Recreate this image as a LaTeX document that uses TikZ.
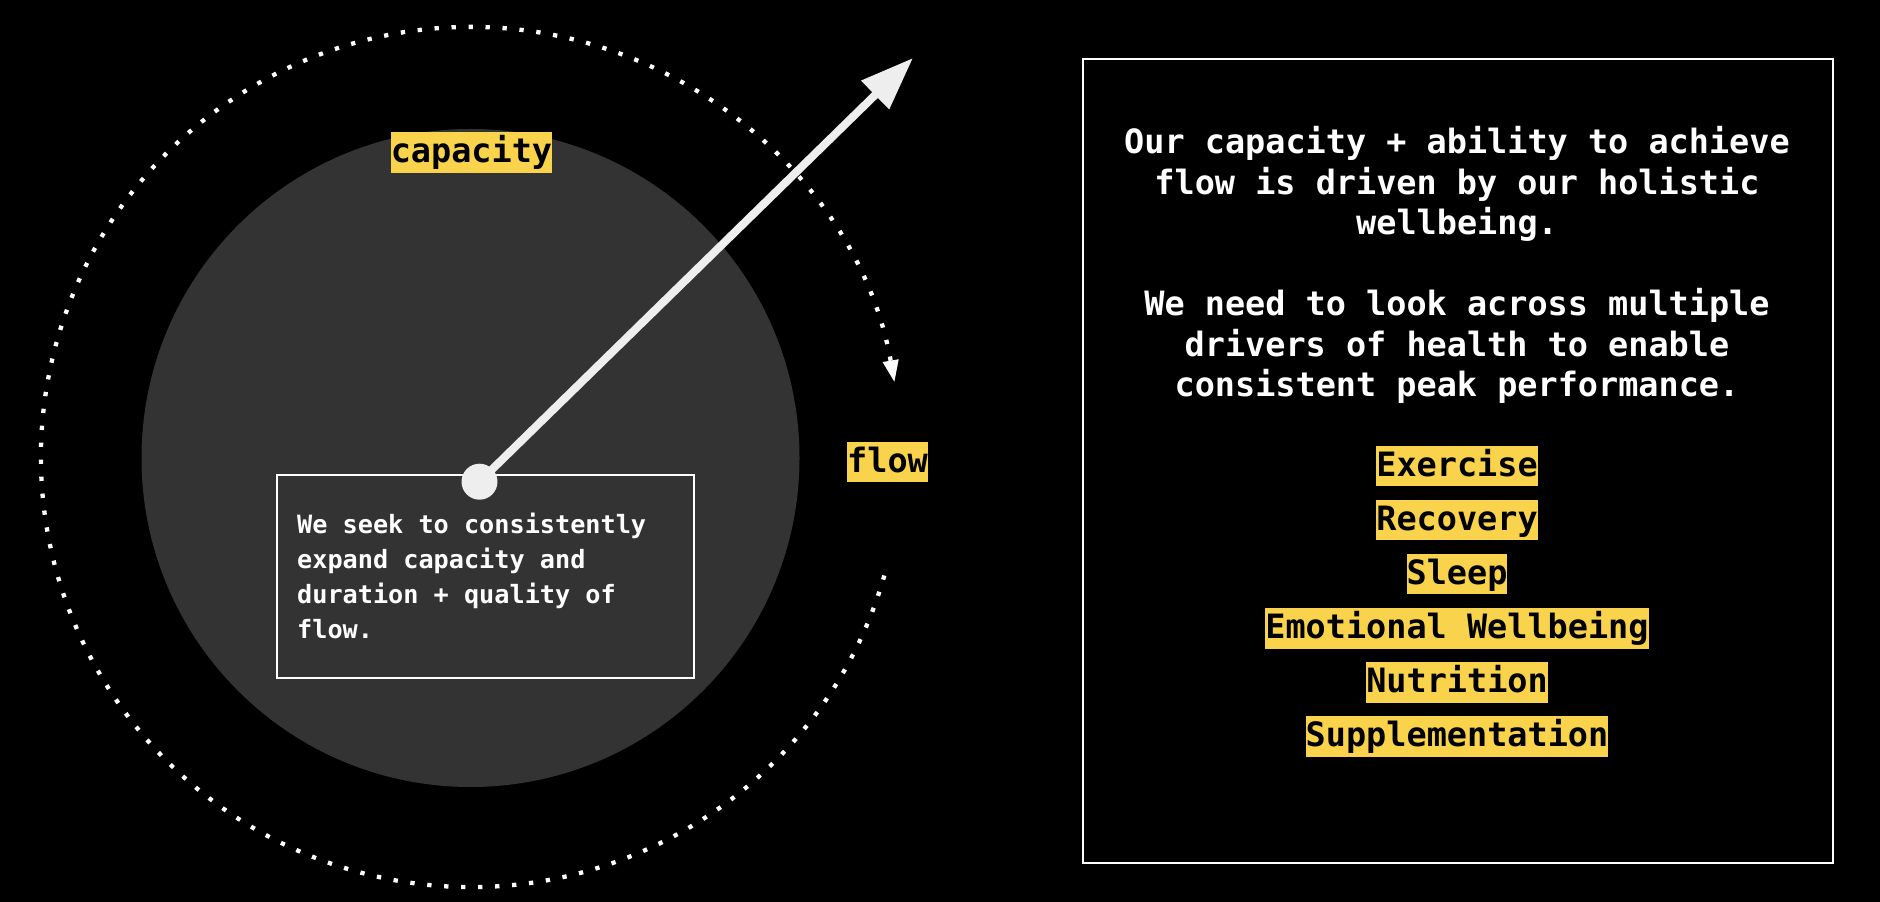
\documentclass[tikz,border=0pt]{standalone}
\usepackage{fontspec}
\newfontfamily\monofont{DejaVu Sans Mono}
\usetikzlibrary{arrows.meta}
\definecolor{hl}{HTML}{F9D34B}
\definecolor{disc}{HTML}{333333}
\definecolor{pale}{HTML}{EEEEEE}
\begin{document}
\begin{tikzpicture}[x=1pt,y=1pt,
  big/.style={font=\monofont\bfseries\fontsize{33.5}{40.5}\selectfont},
  small/.style={font=\monofont\bfseries\fontsize{25.2}{35}\selectfont},
  tag/.style={big, fill=hl, text=black, inner xsep=0pt, inner ysep=0pt, minimum height=40.5pt, text height=26pt, text depth=5.5pt},
  wline/.style={big, text=white, anchor=base, inner sep=0pt},
  bline/.style={small, text=white, anchor=base west, inner sep=0pt},
  frame/.style={draw=white, line width=2pt, inner sep=0pt, anchor=south west},
]
\fill[black] (0,0) rectangle (1880,902);
\useasboundingbox (0,0) rectangle (1880,902);
\coordinate (c) at (471,445);
\fill[disc] (470.5,444) circle[radius=329];
\draw[white, line width=4.3pt, dash pattern=on 4.3pt off 12.7pt,
  -{Triangle[length=22pt,width=15pt]}]
  (c) ++(-16:430) arc[start angle=-16, end angle=-350, radius=430];
% inner note box
\node[frame, fill=disc, minimum width=417pt, minimum height=203pt] (note) at (276,223) {};
\node[bline] (n1) at (297,368) {We seek to consistently};
\node[bline] (n2) at (297,333) {expand capacity and};
\node[bline] (n3) at (297,298) {duration + quality of};
\node[bline] (n4) at (297,263) {flow.};
% thick arrow
\coordinate (hubc) at (479.5,420.3);
\coordinate (tip) at (913,844);
\draw[pale, line width=8pt, -{Triangle[length=53pt,width=38pt]}] (hubc) -- (tip);
\node[circle, fill=pale, minimum size=36pt, inner sep=0pt] (hub) at (hubc) {};
% labels
\node[tag] (cap) at (471.5,749.5) {capacity};
\node[tag] (flow) at (887.5,440) {flow};
% right panel
\node[frame, minimum width=750pt, minimum height=804pt] (panel) at (1082,38) {};
\node[wline] (r1) at (1457,748) {Our capacity + ability to achieve};
\node[wline] (r2) at (1457,707.4) {flow is driven by our holistic};
\node[wline] (r3) at (1457,667) {wellbeing.};
\node[wline] (r4) at (1457,586) {We need to look across multiple};
\node[wline] (r5) at (1457,545.4) {drivers of health to enable};
\node[wline] (r6) at (1457,505) {consistent peak performance.};
\node[tag] (t1) at (1457,436) {Exercise};
\node[tag] (t2) at (1457,381.9) {Recovery};
\node[tag] (t3) at (1457,327.8) {Sleep};
\node[tag] (t4) at (1457,273.7) {Emotional Wellbeing};
\node[tag] (t5) at (1457,219.6) {Nutrition};
\node[tag] (t6) at (1457,165.5) {Supplementation};
\end{tikzpicture}
\end{document}
